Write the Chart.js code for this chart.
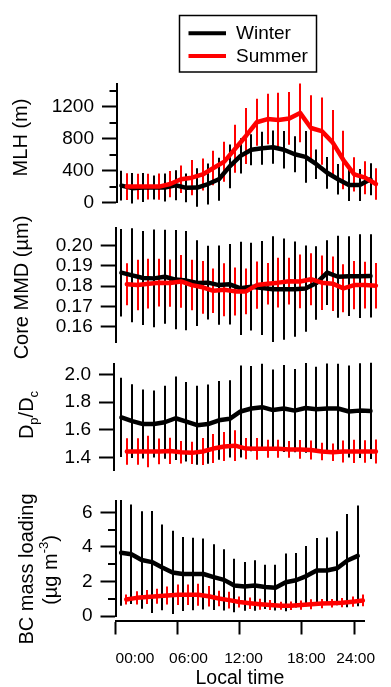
<!DOCTYPE html>
<html>
<head>
<meta charset="utf-8">
<script src="https://cdn.jsdelivr.net/npm/chart.js@4.4.0/dist/chart.umd.min.js"></script>
<style>
  html, body { margin: 0; padding: 0; background: #fff; overflow: hidden; }
  #wrap { position: relative; width: 391px; height: 687px; }
  canvas { position: absolute; left: 0; }
</style>
</head>
<body>
<div id="wrap">
  <canvas id="mlh"></canvas>
  <canvas id="mmd"></canvas>
  <canvas id="ratio"></canvas>
  <canvas id="bc"></canvas>
</div>
<script>
// ---- data ----
const seasons = ['Winter', 'Summer'];
const seasonColors = ['#000000', '#ff0000'];

const winterHours = [0.5, 1.5, 2.5, 3.5, 4.5, 5.5, 6.5, 7.5, 8.5, 9.5, 10.5, 11.5,
  12.5, 13.5, 14.5, 15.5, 16.5, 17.5, 18.5, 19.5, 20.5, 21.5, 22.5, 23.5];
const summerHours = [1, 2, 3, 4, 5, 6, 7, 8, 9, 10, 11, 12,
  13, 14, 15, 16, 17, 18, 19, 20, 21, 22, 23, 24];

const xTickHours = [0, 6, 12, 18, 23.2];
const xLabelHours = [1.85, 7.05, 12.4, 18.5, 23.3];
const xTickLabels = ['00:00', '06:00', '12:00', '18:00', '24:00'];

// mixing layer height (m)
const mlhWinter = [213, 181, 189, 189, 189, 217, 185, 189, 233, 293, 454, 586,
  663, 683, 695, 663, 607, 574, 482, 374, 293, 221, 221, 293];
const mlhWinterSd = [187, 191, 181, 151, 175, 189, 181, 241, 257, 271, 275, 221,
  195, 207, 209, 235, 227, 325, 185, 199, 191, 201, 201, 201];
const mlhSummer = [201, 201, 201, 201, 233, 293, 313, 353, 434, 514, 675, 836,
  1008, 1048, 1036, 1056, 1125, 936, 896, 755, 534, 353, 313, 233];
const mlhSummerSd = [167, 161, 161, 165, 165, 171, 221, 201, 217, 251, 301, 351,
  295, 317, 341, 331, 368, 412, 422, 408, 366, 215, 207, 197];
const mlhTicks = [0, 400, 800, 1200];
const mlhMinorTicks = [200, 600, 1000, 1400];

// core MMD (um)
const mmdWinter = [0.1866, 0.1853, 0.1840, 0.1838, 0.1846, 0.1832, 0.1827, 0.1815, 0.1817, 0.1805, 0.1809, 0.1789,
  0.1797, 0.1791, 0.1785, 0.1785, 0.1785, 0.1788, 0.1815, 0.1866, 0.1846, 0.1849, 0.1849, 0.1850];
const mmdWinterSd = [0.0215, 0.0231, 0.0231, 0.0240, 0.0231, 0.0244, 0.0244, 0.0211, 0.0181, 0.0195, 0.0198, 0.0229,
  0.0216, 0.0231, 0.0260, 0.0249, 0.0234, 0.0212, 0.0181, 0.0159, 0.0202, 0.0196, 0.0206, 0.0205];
const mmdSummer = [0.1809, 0.1805, 0.1812, 0.1817, 0.1815, 0.1823, 0.1805, 0.1794, 0.1777, 0.1782, 0.1774, 0.1774,
  0.1805, 0.1812, 0.1817, 0.1824, 0.1823, 0.1834, 0.1817, 0.1812, 0.1789, 0.1805, 0.1805, 0.1802];
const mmdSummerSd = [0.0103, 0.0124, 0.0122, 0.0117, 0.0116, 0.0130, 0.0124, 0.0130, 0.0109, 0.0130, 0.0118, 0.0113,
  0.0116, 0.0102, 0.0122, 0.0115, 0.0132, 0.0128, 0.0134, 0.0134, 0.0118, 0.0119, 0.0115, 0.0112];
const mmdTicks = [0.16, 0.17, 0.18, 0.19, 0.20];

// Dp/Dc
const ratioWinter = [1.690, 1.663, 1.642, 1.642, 1.655, 1.684, 1.659, 1.634, 1.642, 1.669, 1.680, 1.733,
  1.754, 1.764, 1.743, 1.754, 1.739, 1.758, 1.749, 1.754, 1.754, 1.733, 1.739, 1.737];
const ratioWinterSd = [0.286, 0.266, 0.249, 0.242, 0.264, 0.302, 0.287, 0.285, 0.286, 0.284, 0.279, 0.332,
  0.308, 0.314, 0.292, 0.314, 0.300, 0.324, 0.307, 0.326, 0.324, 0.332, 0.342, 0.347];
const ratioSummer = [1.444, 1.444, 1.444, 1.444, 1.448, 1.438, 1.434, 1.444, 1.465, 1.480, 1.486, 1.465,
  1.463, 1.463, 1.463, 1.459, 1.459, 1.455, 1.444, 1.438, 1.444, 1.444, 1.444, 1.444];
const ratioSummerSd = [0.095, 0.095, 0.113, 0.093, 0.095, 0.081, 0.081, 0.098, 0.105, 0.105, 0.111, 0.077,
  0.079, 0.065, 0.065, 0.061, 0.068, 0.068, 0.063, 0.063, 0.079, 0.084, 0.081, 0.086];
const ratioTicks = [1.4, 1.6, 1.8, 2.0];

// BC mass loading (ug m-3)
const bcWinter = [3.66, 3.57, 3.24, 3.12, 2.81, 2.52, 2.43, 2.43, 2.43, 2.25, 2.09, 1.77,
  1.71, 1.77, 1.68, 1.64, 1.95, 2.07, 2.31, 2.63, 2.63, 2.76, 3.21, 3.48];
const bcWinterSd = [3.06, 2.88, 2.82, 2.95, 2.48, 2.41, 2.14, 2.10, 2.05, 1.90, 1.77, 1.55,
  1.41, 1.46, 1.28, 1.32, 1.67, 1.58, 1.74, 1.89, 1.92, 2.14, 2.70, 2.91];
const bcSummer = [0.955, 1.05, 1.10, 1.14, 1.19, 1.23, 1.23, 1.23, 1.14, 1.01, 0.92, 0.81,
  0.74, 0.68, 0.63, 0.59, 0.59, 0.63, 0.68, 0.72, 0.74, 0.77, 0.83, 0.90];
const bcSummerSd = [0.29, 0.38, 0.41, 0.43, 0.52, 0.59, 0.60, 0.63, 0.59, 0.45, 0.48, 0.32,
  0.33, 0.32, 0.29, 0.23, 0.25, 0.27, 0.29, 0.27, 0.25, 0.27, 0.30, 0.34];
const bcTicks = [0, 2, 4, 6];
const bcMinorTicks = [1, 3, 5];

// ---- layout ----
const FONT = '"Liberation Sans", Arial, Helvetica, sans-serif';
Chart.defaults.font.family = FONT;
Chart.defaults.color = '#000';

const W = 391;
const HOUR0_PX = 116;
const PX_PER_HOUR = 10.83;
const PLOT_RIGHT = 377.5;
const X_MAX = (PLOT_RIGHT - HOUR0_PX) / PX_PER_HOUR;
const X_GAP = 4.5; // x axis sits a little below the last panel

const panels = [
  { id: 'mlh', top: 0, height: 222, left: 117, plotTop: 84, plotBottom: 208.3,
    min: 0, max: 1488, ticks: mlhTicks, minor: mlhMinorTicks, fmt: v => String(v),
    series: [[mlhWinter, mlhWinterSd], [mlhSummer, mlhSummerSd]],
    titles: [{ x: 26.7, y: 137.5, parts: [{ t: 'MLH (m)' }] }], legend: true },
  { id: 'mmd', top: 209, height: 153, left: 115.7, plotTop: 220.7, plotBottom: 343.3,
    min: 0.15221, max: 0.20838, ticks: mmdTicks, fmt: v => v.toFixed(2),
    series: [[mmdWinter, mmdWinterSd], [mmdSummer, mmdSummerSd]],
    titles: [{ x: 28.3, y: 287.5, parts: [{ t: 'Core MMD (µm)' }] }] },
  { id: 'ratio', top: 345, height: 145, left: 114, plotTop: 356.7, plotBottom: 479,
    min: 1.306, max: 2.0727, ticks: ratioTicks, fmt: v => v.toFixed(1),
    series: [[ratioWinter, ratioWinterSd], [ratioSummer, ratioSummerSd]],
    titles: [{ x: 33.3, y: 415, parts: [{ t: 'D' }, { t: 'p', sub: true }, { t: '/D' }, { t: 'c', sub: true }] }] },
  { id: 'bc', top: 482, height: 205, left: 115.5, plotTop: 493.3, plotBottom: 616,
    min: 0, max: 6.632, ticks: bcTicks, minor: bcMinorTicks, fmt: v => String(v),
    series: [[bcWinter, bcWinterSd], [bcSummer, bcSummerSd]],
    titles: [{ x: 33.3, y: 569, parts: [{ t: 'BC mass loading' }] },
             { x: 57.3, y: 570, parts: [{ t: '(µg m' }, { t: '-3', sup: true }, { t: ')' }] }],
    xAxis: true }
];

// vertical error bars drawn under the lines
const errorBars = {
  id: 'errorBars',
  beforeDatasetsDraw(chart) {
    const ctx = chart.ctx;
    const yScale = chart.scales.y;
    chart.data.datasets.forEach((ds, i) => {
      const meta = chart.getDatasetMeta(i);
      ctx.save();
      ctx.strokeStyle = ds.borderColor;
      ctx.lineWidth = 2;
      ctx.beginPath();
      meta.data.forEach((pt, j) => {
        const v = ds.data[j].y, e = ds.errors[j];
        const px = Math.round(pt.x);
        ctx.moveTo(px, yScale.getPixelForValue(v + e));
        ctx.lineTo(px, yScale.getPixelForValue(v - e));
      });
      ctx.stroke();
      ctx.restore();
    });
  }
};

function makeDecorPlugin(p) {
  return {
    id: 'decor_' + p.id,
    afterLayout(chart) {
      if (!p.xAxis) return;
      ['x', 'xl'].forEach(k => {
        chart.scales[k].top += X_GAP;
        chart.scales[k].bottom += X_GAP;
      });
    },
    afterDraw(chart) {
      const ctx = chart.ctx;
      const area = chart.chartArea;
      ctx.save();
      ctx.strokeStyle = '#000';
      ctx.fillStyle = '#000';

      // short minor ticks
      if (p.minor) {
        ctx.lineWidth = 2;
        ctx.beginPath();
        p.minor.forEach(v => {
          const y = Math.round(chart.scales.y.getPixelForValue(v));
          ctx.moveTo(area.left - 7.5, y);
          ctx.lineTo(area.left, y);
        });
        ctx.stroke();
      }

      // rotated axis titles with sub/superscripts
      ctx.textAlign = 'left';
      ctx.textBaseline = 'alphabetic';
      const fontFor = part => ((part.sub || part.sup) ? 13 : 20) + 'px ' + FONT;
      p.titles.forEach(line => {
        let total = 0;
        line.parts.forEach(part => { ctx.font = fontFor(part); total += ctx.measureText(part.t).width; });
        ctx.save();
        ctx.translate(line.x, line.y - p.top);
        ctx.rotate(-Math.PI / 2);
        let cx = -total / 2;
        line.parts.forEach(part => {
          ctx.font = fontFor(part);
          const dy = part.sub ? 5 : (part.sup ? -9 : 0);
          ctx.fillText(part.t, cx, dy);
          cx += ctx.measureText(part.t).width;
        });
        ctx.restore();
      });

      // boxed legend
      if (p.legend) {
        const bx = 179.5, by = 15.5 - p.top, bw = 137, bh = 56.5;
        ctx.lineWidth = 1.5;
        ctx.strokeRect(bx, by, bw, bh);
        ctx.font = '19px ' + FONT;
        ctx.textBaseline = 'middle';
        chart.data.datasets.forEach((ds, i) => {
          const ly = by + 17.8 + i * 22.7;
          ctx.strokeStyle = ds.borderColor;
          ctx.lineWidth = 4;
          ctx.beginPath();
          ctx.moveTo(bx + 9, ly);
          ctx.lineTo(bx + 46.5, ly);
          ctx.stroke();
          ctx.fillStyle = '#000';
          ctx.fillText(ds.label, bx + 56.5, ly + 0.5);
        });
      }
      ctx.restore();
    }
  };
}

panels.forEach(p => {
  const canvas = document.getElementById(p.id);
  canvas.style.top = p.top + 'px';
  canvas.width = W;
  canvas.height = p.height;

  const xMin = (p.left - HOUR0_PX) / PX_PER_HOUR;
  const hoursBySeason = [winterHours, summerHours];
  const datasets = p.series.map((s, i) => ({
    label: seasons[i],
    data: hoursBySeason[i].map((h, j) => ({ x: h, y: s[0][j] })),
    errors: s[1],
    borderColor: seasonColors[i],
    backgroundColor: seasonColors[i],
    borderWidth: 4.5,
    pointRadius: 0,
    tension: 0,
    borderJoinStyle: 'round',
    borderCapStyle: 'round',
    clip: false,
    order: i === 0 ? 1 : 0
  }));

  const scales = {
    y: {
      min: p.min, max: p.max,
      afterFit: s => { s.width = p.left; },
      afterBuildTicks: s => { s.ticks = p.ticks.map(v => ({ value: v })); },
      ticks: { callback: p.fmt, font: { size: 19 }, color: '#000', padding: 8 },
      grid: { drawOnChartArea: false, tickLength: 15, tickWidth: 2, tickColor: '#000' },
      border: { color: '#000', width: 2 }
    }
  };
  let padBottom = p.top + p.height - p.plotBottom;
  if (p.xAxis) {
    padBottom = 0;
    scales.x = {
      type: 'linear', position: 'bottom', weight: 0, min: xMin, max: X_MAX,
      afterBuildTicks: s => { s.ticks = xTickHours.map(v => ({ value: v })); },
      afterFit: s => { s.height = 14; },
      ticks: { display: false },
      grid: { drawOnChartArea: false, tickLength: 14, tickWidth: 2, tickColor: '#000' },
      border: { color: '#000', width: 2 }
    };
    scales.xl = {
      type: 'linear', position: 'bottom', weight: 1, min: xMin, max: X_MAX,
      afterBuildTicks: s => { s.ticks = xLabelHours.map(v => ({ value: v })); },
      afterFit: s => { s.height = p.top + p.height - p.plotBottom - 14; },
      grid: { display: false, drawTicks: false },
      border: { display: false },
      ticks: { autoSkip: false, maxRotation: 0, padding: 15, font: { size: 15.5 }, color: '#000',
               callback: (v, i) => xTickLabels[i] },
      title: { display: true, text: 'Local time', font: { size: 19.5 }, color: '#000',
               padding: { top: 0, bottom: 1 } }
    };
  } else {
    scales.x = { type: 'linear', display: false, min: xMin, max: X_MAX };
  }

  new Chart(canvas, {
    type: 'line',
    data: { datasets: datasets },
    options: {
      responsive: false,
      animation: false,
      layout: { padding: { top: p.plotTop - p.top, bottom: padBottom, left: 0, right: W - PLOT_RIGHT } },
      plugins: { legend: { display: false }, tooltip: { enabled: false } },
      scales: scales
    },
    plugins: [errorBars, makeDecorPlugin(p)]
  });
});
</script>
</body>
</html>
